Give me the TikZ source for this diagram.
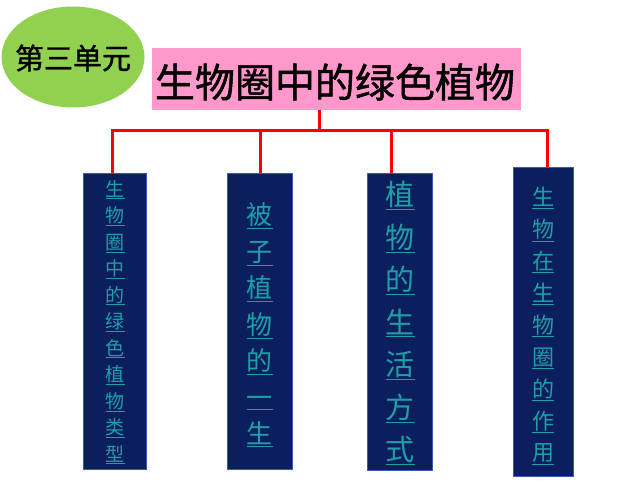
\documentclass[tikz,border=0pt]{standalone}
\usepackage{fontspec}
\usetikzlibrary{shapes.geometric}
\newfontfamily\cjk{Noto Sans CJK SC}
\newfontfamily\cjkb[FakeBold=1.2]{Noto Sans CJK SC}
\definecolor{ellgreen}{HTML}{92D050}
\definecolor{titlepink}{HTML}{FF99CC}
\definecolor{navy}{HTML}{0B1F5E}
\definecolor{navyedge}{HTML}{3A5BB0}
\definecolor{tealtxt}{HTML}{1E9FA6}
\definecolor{linkred}{HTML}{FF0000}
\newcommand{\ul}[1]{\underline{#1}}
\tikzset{
  colbox/.style={draw=navyedge, line width=0.6pt, fill=navy, inner sep=0pt, anchor=north west},
  coltext/.style={text=tealtxt, align=center, inner sep=0pt},
  redline/.style={draw=linkred, line width=3pt},
}
\begin{document}
\begin{tikzpicture}[x=1pt,y=-1pt]
\useasboundingbox (0,0) rectangle (640,487);
\fill[white] (0,0) rectangle (640,487);
% green ellipse
\node[ellipse, draw=none, fill=ellgreen, minimum width=143, minimum height=101, inner sep=0pt] (ell) at (73,57) {};
\node[font=\cjkb\fontsize{29}{29}\selectfont, inner sep=0pt] (unit) at (73,58) {第三单元};
% title
\node[fill=titlepink, minimum width=369, minimum height=62, inner sep=0pt] (title) at (336.5,79) {};
\node[font=\cjkb\fontsize{40}{40}\selectfont, inner sep=0pt] (ttext) at (335,82) {生物圈中的绿色植物};
% boxes
\node[colbox, minimum width=63, minimum height=296] (b1) at (83,173) {};
\node[colbox, minimum width=65, minimum height=296] (b2) at (227,173) {};
\node[colbox, minimum width=65, minimum height=297] (b3) at (367,173) {};
\node[colbox, minimum width=60, minimum height=309] (b4) at (513,167) {};
% column texts
\node[coltext, font=\cjk\fontsize{19}{26.5}\selectfont] (t1) at (115,322)
  {\ul{生}\\\ul{物}\\\ul{圈}\\\ul{中}\\\ul{的}\\\ul{绿}\\\ul{色}\\\ul{植}\\\ul{物}\\\ul{类}\\\ul{型}};
\node[coltext, font=\cjk\fontsize{26}{36.5}\selectfont] (t2) at (259.5,325)
  {\ul{被}\\\ul{子}\\\ul{植}\\\ul{物}\\\ul{的}\\\ul{一}\\\ul{生}};
\node[coltext, font=\cjk\fontsize{29}{42.5}\selectfont] (t3) at (400,323)
  {\ul{植}\\\ul{物}\\\ul{的}\\\ul{生}\\\ul{活}\\\ul{方}\\\ul{式}};
\node[coltext, font=\cjk\fontsize{22}{31.9}\selectfont] (t4) at (543,326)
  {\ul{生}\\\ul{物}\\\ul{在}\\\ul{生}\\\ul{物}\\\ul{圈}\\\ul{的}\\\ul{作}\\\ul{用}};
% connectors
\coordinate (top) at (319,110);
\coordinate (hub) at (319,130);
\coordinate (j1) at (112,130);
\coordinate (j2) at (260,130);
\coordinate (j3) at (391,130);
\coordinate (j4) at (547,130);
\draw[redline] (top) -- (hub);
\draw[redline, line cap=rect] (j1) -- (j4);
\draw[redline] (j1) -- (j1 |- b1.north);
\draw[redline] (j2) -- (j2 |- b2.north);
\draw[redline] (j3) -- (j3 |- b3.north);
\draw[redline] (j4) -- (j4 |- b4.north);
\end{tikzpicture}
\end{document}
